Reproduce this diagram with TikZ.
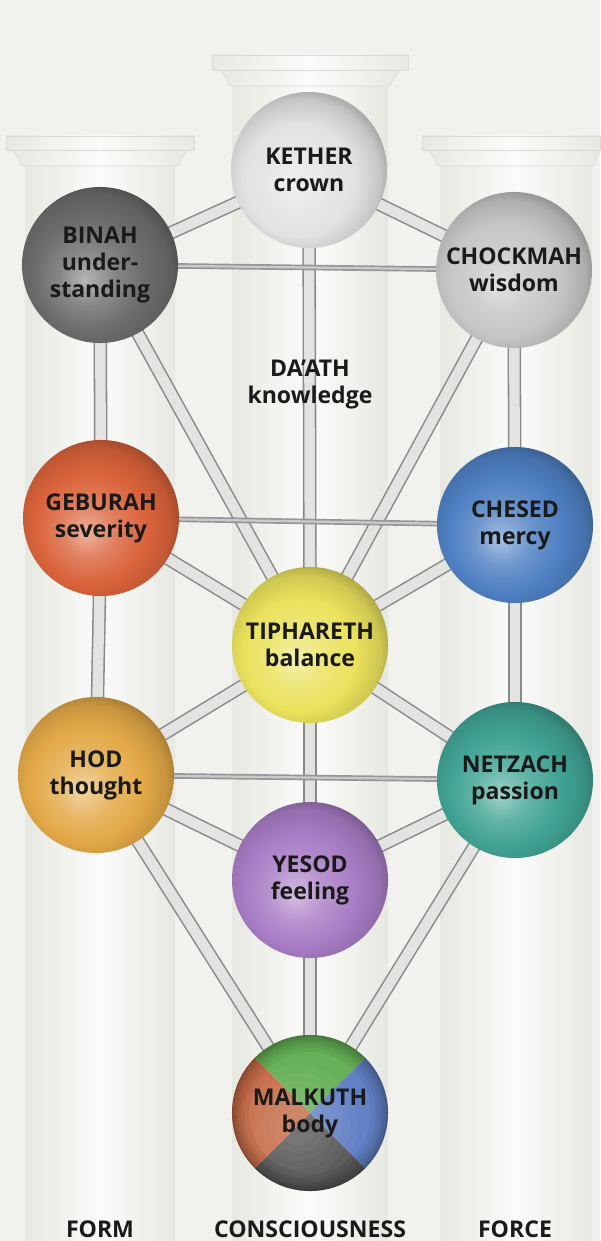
\documentclass[tikz,border=0pt]{standalone}
\usepackage{fontspec}
\setmainfont{Open Sans}

% palette
\definecolor{bgcol}{HTML}{F1F1ED}
\definecolor{pilmid}{HTML}{FBFBFA}
\definecolor{piledge}{HTML}{E8E8E2}
\definecolor{piline}{HTML}{DADAD3}
\definecolor{rodfill}{HTML}{E3E3E1}
\definecolor{rodedge}{HTML}{8A8A8A}
\definecolor{ink}{HTML}{1A1A1A}
\definecolor{ckether}{HTML}{E2E2E2}
\definecolor{cbinah}{HTML}{6C6C6C}
\definecolor{cchockmah}{HTML}{C6C6C6}
\definecolor{cgeburah}{HTML}{DA633B}
\definecolor{cchesed}{HTML}{4F80C3}
\definecolor{ctiphareth}{HTML}{EAE25C}
\definecolor{chod}{HTML}{E3A947}
\definecolor{cnetzach}{HTML}{40A393}
\definecolor{cyesod}{HTML}{A87CC5}
\definecolor{mgreen}{HTML}{66B157}
\definecolor{mblue}{HTML}{6381C6}
\definecolor{mgrey}{HTML}{585858}
\definecolor{mrust}{HTML}{C86C48}

% shaded sphere, lit from the lower left
\colorlet{spherecol}{gray}
\pgfdeclareradialshading[spherecol]{sphere}{\pgfpoint{-5bp}{-5bp}}{%
  color(0bp)=(spherecol!50!white);
  color(9bp)=(spherecol!82!white);
  color(18bp)=(spherecol);
  color(25bp)=(spherecol!88!black);
  color(30bp)=(spherecol!66!black);
  color(50bp)=(spherecol!60!black)}

\newcommand\labfont{\fontsize{16.4}{19.2}\selectfont\bfseries}

\pgfdeclarelayer{back}
\pgfdeclarelayer{rods}
\pgfsetlayers{back,rods,main}

\tikzset{
  sphcol/.code={\colorlet{spherecol}{#1}},
  sph/.style={circle, inner sep=0pt, minimum size=3.9cm, shade, shading=sphere,
    sphcol=#1, text=ink, align=center, font=\labfont},
  rod/.style={draw=rodedge, line width=1.1pt, double=rodfill, double distance=7.4pt},
  hrod/.style={draw=rodedge!90, line width=1.2pt, double=rodedge!45, double distance=1.6pt},
  pilbody/.style={left color=piledge, right color=piledge, middle color=pilmid},
  pillabel/.style={text=ink, font=\labfont, anchor=base}
}

\begin{document}
\begin{tikzpicture}[x=0.025cm, y=-0.025cm]
\useasboundingbox (0,0) rectangle (600,1241);

% backdrop and the three pillars
\begin{pgfonlayer}{back}
  \fill[bgcol] (0,0) rectangle (600,1241);
  % left pillar
  \shade[pilbody] (25,165) rectangle (175,1241);
  \shade[pilbody, draw=piline, line width=0.4pt] (12,150) -- (188,150) -- (177,166) -- (23,166) -- cycle;
  \shade[pilbody, draw=piline, line width=0.4pt] (6,136) rectangle (194,150);
  % middle pillar
  \shade[pilbody] (232,86) rectangle (388,1241);
  \shade[pilbody, draw=piline, line width=0.4pt] (220,70) -- (400,70) -- (389,86) -- (231,86) -- cycle;
  \shade[pilbody, draw=piline, line width=0.4pt] (212,55) rectangle (408,70);
  % right pillar
  \shade[pilbody] (440,165) rectangle (592,1241);
  \shade[pilbody, draw=piline, line width=0.4pt] (428,150) -- (600,150) -- (593,166) -- (439,166) -- cycle;
  \shade[pilbody, draw=piline, line width=0.4pt] (422,136) rectangle (600,150);
\end{pgfonlayer}

% the ten spheres
\node[sph=ckether]    (kether)    at (309,170) {KETHER\\crown};
\node[sph=cbinah]     (binah)     at (100,265) {BINAH\\under-\\standing};
\node[sph=cchockmah]  (chockmah)  at (514,270) {CHOCKMAH\\wisdom};
\node[sph=cgeburah]   (geburah)   at (101,518) {GEBURAH\\severity};
\node[sph=cchesed]    (chesed)    at (515,525) {CHESED\\mercy};
\node[sph=ctiphareth] (tiphareth) at (310,645) {TIPHARETH\\balance};
\node[sph=chod]       (hod)       at (96,775)  {HOD\\thought};
\node[sph=cnetzach]   (netzach)   at (515,780) {NETZACH\\passion};
\node[sph=cyesod]     (yesod)     at (310,880) {YESOD\\feeling};

% Malkuth, quartered, with a soft highlight and a darkened rim
\node[circle, inner sep=0pt, minimum size=3.9cm, text=ink, align=center, font=\labfont,
  path picture={
    \coordinate (mc) at (path picture bounding box.center);
    \fill[mgreen] (mc) -- ++(2.9cm,2.9cm) -- ++(-5.8cm,0cm) -- cycle;
    \fill[mblue]  (mc) -- ++(2.9cm,2.9cm) -- ++(0cm,-5.8cm) -- cycle;
    \fill[mgrey]  (mc) -- ++(2.9cm,-2.9cm) -- ++(-5.8cm,0cm) -- cycle;
    \fill[mrust]  (mc) -- ++(-2.9cm,2.9cm) -- ++(0cm,-5.8cm) -- cycle;
    \foreach \r in {1.5,1.3,1.1,0.9,0.7,0.5}
      \fill[white, opacity=0.035] ([shift={(-0.3cm,-0.3cm)}]mc) circle[radius=\r cm];
    \foreach \w in {24,18,13,9,6,3,1.5}
      \draw[black, opacity=0.05, line width=\w pt] (mc) circle[radius=1.95cm];
  }] (malkuth) at (310,1113) {MALKUTH\\body};

% the hidden sphere
\node[text=ink, align=center, font=\labfont] (daath) at (310,385) {DA’ATH\\knowledge};

% the paths between the spheres
\begin{pgfonlayer}{rods}
  \draw[rod] (kether.center) -- (binah.center);
  \draw[rod] (kether.center) -- (chockmah.center);
  \draw[rod] (kether.center) -- (tiphareth.center);
  \draw[rod] (binah.center) -- (geburah.center);
  \draw[rod] (chockmah.center) -- (chesed.center);
  \draw[rod] (binah.center) -- (tiphareth.center);
  \draw[rod] (chockmah.center) -- (tiphareth.center);
  \draw[rod] (geburah.center) -- (tiphareth.center);
  \draw[rod] (chesed.center) -- (tiphareth.center);
  \draw[rod] (geburah.center) -- (hod.center);
  \draw[rod] (chesed.center) -- (netzach.center);
  \draw[rod] (tiphareth.center) -- (hod.center);
  \draw[rod] (tiphareth.center) -- (netzach.center);
  \draw[rod] (tiphareth.center) -- (yesod.center);
  \draw[rod] (hod.center) -- (yesod.center);
  \draw[rod] (netzach.center) -- (yesod.center);
  \draw[rod] (hod.center) -- (malkuth.center);
  \draw[rod] (netzach.center) -- (malkuth.center);
  \draw[rod] (yesod.center) -- (malkuth.center);
  \draw[hrod] (binah.center) -- (chockmah.center);
  \draw[hrod] (geburah.center) -- (chesed.center);
  \draw[hrod] (hod.center) -- (netzach.center);
\end{pgfonlayer}

% the three pillars named
\node[pillabel] (form)  at (100,1237) {FORM};
\node[pillabel] (consc) at (310,1237) {CONSCIOUSNESS};
\node[pillabel] (force) at (515,1237) {FORCE};
\end{tikzpicture}
\end{document}
